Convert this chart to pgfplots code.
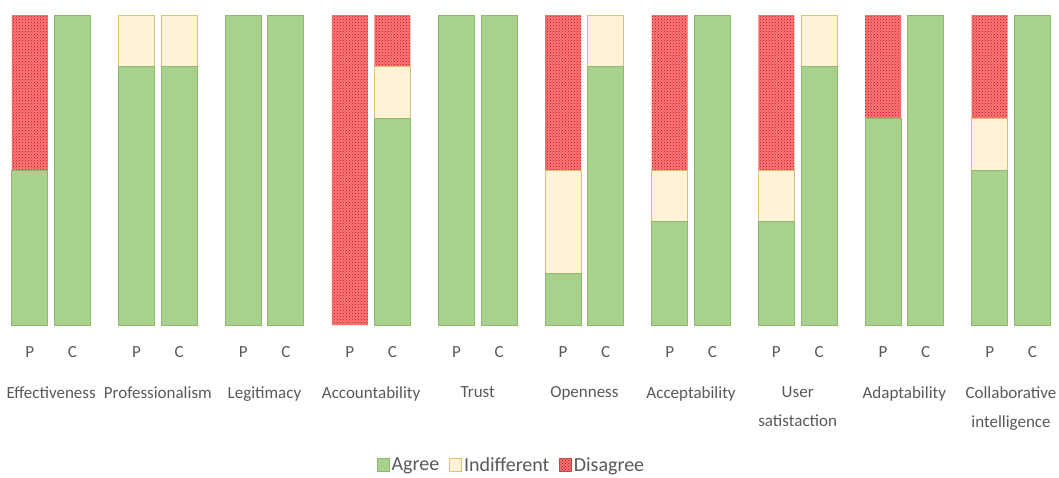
\documentclass[border=0pt]{standalone}
\usepackage{pgfplots}
\pgfplotsset{compat=1.18}
\usepackage{pgfplotstable}
\usepackage{fontspec}
\setmainfont{Carlito}
\usetikzlibrary{patterns}
\definecolor{agreeF}{HTML}{A9D18E}
\definecolor{agreeD}{HTML}{8DB96F}
\definecolor{indF}{HTML}{FFF2D6}
\definecolor{indD}{HTML}{DCC26E}
\definecolor{disF}{HTML}{FF7676}
\definecolor{disP}{HTML}{B01818}
\definecolor{txt}{HTML}{595959}

\pgfplotstableread{
x agree indiff disagree
-0.2 50 0 50
0.2 100 0 0
0.8 83.33 16.67 0
1.2 83.33 16.67 0
1.8 100 0 0
2.2 100 0 0
2.8 0 0 100
3.2 66.67 16.67 16.67
3.8 100 0 0
4.2 100 0 0
4.8 16.67 33.33 50
5.2 83.33 16.67 0
5.8 33.33 16.67 50
6.2 100 0 0
6.8 33.33 16.67 50
7.2 83.33 16.67 0
7.8 66.67 0 33.33
8.2 100 0 0
8.8 50 16.67 33.33
9.2 100 0 0
}\data

\begin{document}
\begin{tikzpicture}
\begin{axis}[
  at={(0pt,0pt)}, anchor=south west,
  scale only axis, width=1059pt, height=310pt,
  xmin=-0.48, xmax=9.45, ymin=0, ymax=100,
  ybar, bar width=36pt,
  axis line style={draw=none},
  tick style={draw=none},
  ytick=\empty,
  unbounded coords=discard,
  xtick={-0.2,0.2,0.8,1.2,1.8,2.2,2.8,3.2,3.8,4.2,4.8,5.2,5.8,6.2,6.8,7.2,7.8,8.2,8.8,9.2},
  xticklabels={P,C,P,C,P,C,P,C,P,C,P,C,P,C,P,C,P,C,P,C},
  x tick label style={font=\fontsize{17}{20}\selectfont, text=txt, yshift=-14pt},
  extra x ticks={0,1,2,3,4,5,6,7,8,9},
  extra x tick labels={Effectiveness,Professionalism,Legitimacy,Accountability,Trust,Openness,Acceptability,User\\[9pt]satistaction,Adaptability,Collaborative\\[9pt]intelligence},
  extra x tick style={tick label style={yshift=-40pt, align=center, font=\fontsize{17}{20}\selectfont, text=txt}},
  legend style={at={(0.483,-0.452)}, anchor=center, draw=none, legend columns=3,
    font=\fontsize{20}{22}\selectfont, text=txt,
    /tikz/every even column/.append style={column sep=8pt}},
  legend image code/.code={\draw[#1] (-2pt,-6pt) rectangle (10pt,7pt);},
  reverse legend,
]
\addplot[bar shift=0pt, fill=disF, draw=none,
  postaction={pattern=crosshatch dots, pattern color=disP},
  restrict expr to domain={\thisrow{disagree}}{0.01:1000},
  legend image code/.code={\draw[fill=disF, draw=disF!75!black, postaction={pattern=crosshatch dots, pattern color=disP}] (-2pt,-6pt) rectangle (10pt,7pt);}]
  table[x=x, y expr=\thisrow{agree}+\thisrow{indiff}+\thisrow{disagree}] {\data};
\addlegendentry{Disagree}
\addplot[bar shift=0pt, fill=indF, draw=indD, line width=0.8pt,
  restrict expr to domain={\thisrow{indiff}}{0.01:1000}]
  table[x=x, y expr=\thisrow{agree}+\thisrow{indiff}] {\data};
\addlegendentry{Indifferent}
\addplot[bar shift=0pt, fill=agreeF, draw=agreeD, line width=0.8pt,
  restrict expr to domain={\thisrow{agree}}{0.01:1000}]
  table[x=x, y=agree] {\data};
\addlegendentry{Agree}
\end{axis}
\pgfresetboundingbox
\path (0pt,-152pt) rectangle (1059pt,325pt);
\end{tikzpicture}
\end{document}
